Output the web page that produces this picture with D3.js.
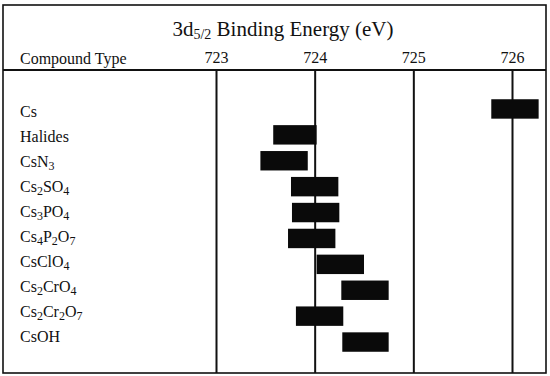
<!DOCTYPE html>
<html>
<head>
<meta charset="utf-8">
<script src="https://cdn.jsdelivr.net/npm/d3@7"></script>
<style>
  body { margin: 0; background: #fff; }
  svg { display: block; }
  svg text, svg tspan { font-family: "Liberation Serif", "Times New Roman", Times, serif !important; fill: #111; }
</style>
</head>
<body>
<script>
// data
const compounds = ['Cs', 'Halides', 'CsN3', 'Cs2SO4', 'Cs3PO4', 'Cs4P2O7',
  'CsClO4', 'Cs2CrO4', 'Cs2Cr2O7', 'CsOH'];
const lowEnergy  = [725.79, 723.58, 723.45, 723.76, 723.77, 723.73, 724.02, 724.27, 723.81, 724.28];
const highEnergy = [726.27, 724.02, 723.93, 724.24, 724.25, 724.21, 724.50, 724.75, 724.29, 724.75];
const energyTicks = [723, 724, 725, 726];

const W = 550, H = 376;
const frame = { left: 3, right: 546, top: 5, bottom: 373, header: 70 };
const serif = '"Liberation Serif", "Times New Roman", Times, serif';

const svg = d3.select('body').append('svg')
  .attr('width', W)
  .attr('height', H)
  .style('font-family', serif);

// scales
const x = d3.scaleLinear().domain([723, 726]).range([216, 512]);
const yBar = d3.scaleBand().domain(compounds).range([96, 355])
  .paddingInner(0.25).paddingOuter(0.125);
const yLabel = d3.scalePoint().domain(compounds).range([117, 342]);

// outer frame
svg.append('rect')
  .attr('x', frame.left)
  .attr('y', frame.top)
  .attr('width', frame.right - frame.left)
  .attr('height', frame.bottom - frame.top)
  .attr('fill', 'none')
  .attr('stroke', '#111')
  .attr('stroke-width', 1.6);

// header rule
svg.append('line')
  .attr('x1', frame.left).attr('x2', frame.right)
  .attr('y1', frame.header).attr('y2', frame.header)
  .attr('stroke', '#111')
  .attr('stroke-width', 2);

// vertical grid lines
const grid = svg.append('g')
  .attr('transform', `translate(0,${frame.header})`)
  .call(d3.axisBottom(x).tickValues(energyTicks)
    .tickSize(frame.bottom - frame.header).tickFormat(''));
grid.select('.domain').remove();
grid.selectAll('line').attr('stroke', '#111').attr('stroke-width', 2);

// tick labels
const axis = svg.append('g')
  .attr('transform', `translate(0,${frame.header})`)
  .call(d3.axisTop(x).tickValues(energyTicks).tickSize(0).tickPadding(7)
    .tickFormat(d3.format('d')));
axis.attr('font-family', null).attr('font-size', null);
axis.select('.domain').remove();
axis.selectAll('text')
  .style('font-family', serif)
  .attr('font-size', 16)
  .attr('fill', '#111');

// title
const title = svg.append('text')
  .attr('x', 283)
  .attr('y', 36)
  .attr('text-anchor', 'middle')
  .style('font-family', serif)
  .attr('font-size', 21);
title.append('tspan').text('3d');
title.append('tspan').attr('font-size', 14).attr('dy', 3).text('5/2');
title.append('tspan').attr('dy', -3).text(' Binding Energy (eV)');

// column header
svg.append('text')
  .attr('x', 20)
  .attr('y', 64)
  .attr('font-size', 16)
  .text('Compound Type');

// compound labels with subscripted digits
const labels = svg.selectAll('.label')
  .data(compounds)
  .enter()
  .append('text')
  .attr('class', 'label')
  .attr('x', 20)
  .attr('y', d => yLabel(d))
  .attr('font-size', 16);

labels.each(function (d) {
  const t = d3.select(this);
  let sub = false;
  d.match(/\d+|\D+/g).forEach(part => {
    const isNum = /\d/.test(part);
    const span = t.append('tspan').text(part);
    if (isNum && !sub) { span.attr('font-size', 12).attr('dy', 3); sub = true; }
    else if (!isNum && sub) { span.attr('dy', -3); sub = false; }
  });
});

// bars
svg.selectAll('.bar')
  .data(compounds)
  .enter()
  .append('rect')
  .attr('class', 'bar')
  .attr('x', (d, i) => x(lowEnergy[i]))
  .attr('width', (d, i) => x(highEnergy[i]) - x(lowEnergy[i]))
  .attr('y', d => yBar(d))
  .attr('height', yBar.bandwidth())
  .attr('fill', '#0a0a0a');
</script>
</body>
</html>
